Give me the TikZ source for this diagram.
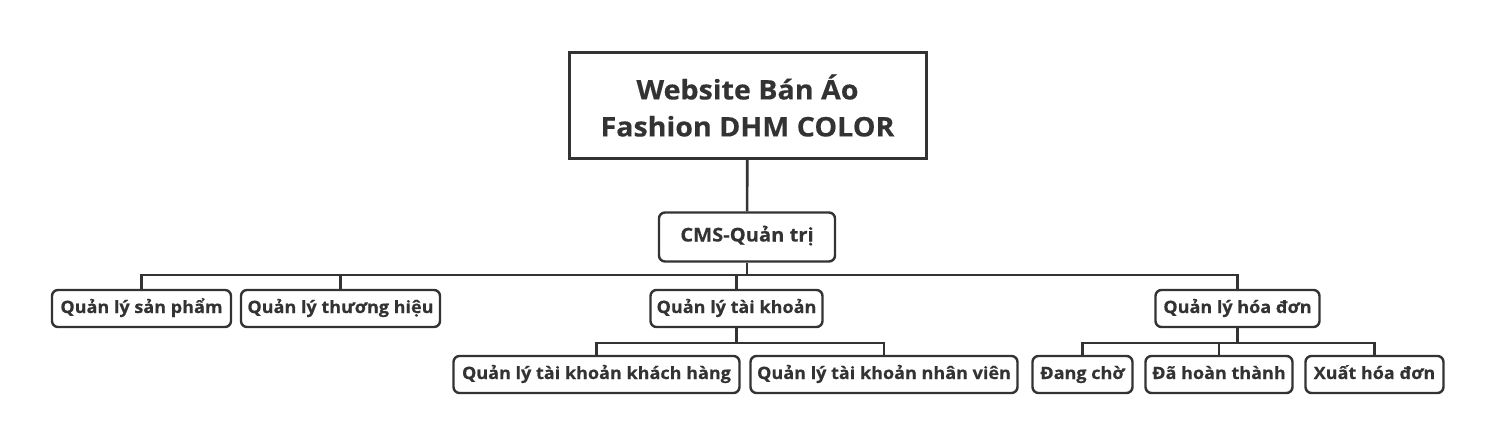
\documentclass[tikz,border=0pt]{standalone}
\usepackage{fontspec}
\setmainfont{Open Sans}[FakeStretch=1.06, BoldFeatures={FakeBold=0.4}]
\usetikzlibrary{positioning}
\definecolor{ink}{HTML}{333333}
\tikzset{
  base/.style={draw=ink, text=ink, align=center, inner sep=0pt, font=\bfseries\fontsize{17}{20}\selectfont},
  head/.style={base, line width=3pt, font=\bfseries\fontsize{27}{37}\selectfont},
  item/.style={base, rounded corners=6pt, line width=2.4pt, minimum height=37pt, text height=12.5pt, text depth=3.5pt},
  link/.style={draw=ink, line width=2.6pt},
}
\begin{document}
\begin{tikzpicture}[x=1pt, y=-1pt]
  \useasboundingbox (0,0) rectangle (1494,444);
  \node[head, minimum width=357pt, minimum height=106pt] (web) at (747.5,105.5) {Website Bán Áo\\Fashion DHM COLOR};
  \node[item, minimum width=176pt, minimum height=49pt, font=\bfseries\fontsize{19}{22}\selectfont] (cms) at (747,237) {CMS-Quản trị};
  \draw[link] (web) -- (cms);
  \coordinate (lv1) at (0,275);
  \coordinate (lv2) at (0,343);
  % nhom chuc nang
  \foreach \x/\w/\id/\txt in {
      141.5/179/sp/Quản lý sản phẩm,
      340.5/199/th/Quản lý thương hiệu,
      736.5/172/tk/Quản lý tài khoản,
      1237.5/164/hd/Quản lý hóa đơn} {
    \node[item, minimum width=\w pt] (\id) at (\x,308.5) {\txt};
    \draw[link] (cms.south) -- (cms.south |- lv1) -| (\id.north);
  }
  % chi tiet
  \foreach \x/\w/\id/\up/\txt in {
      596.5/286/kh/tk/Quản lý tài khoản khách hàng,
      884/267/nv/tk/Quản lý tài khoản nhân viên,
      1082.5/100/dc/hd/Đang chờ,
      1219/147/ht/hd/Đã hoàn thành,
      1374.5/138/xh/hd/Xuất hóa đơn} {
    \node[item, minimum width=\w pt] (\id) at (\x,374.5) {\txt};
    \draw[link] (\up.south) -- (\up.south |- lv2) -| (\id.north);
  }
\end{tikzpicture}
\end{document}
